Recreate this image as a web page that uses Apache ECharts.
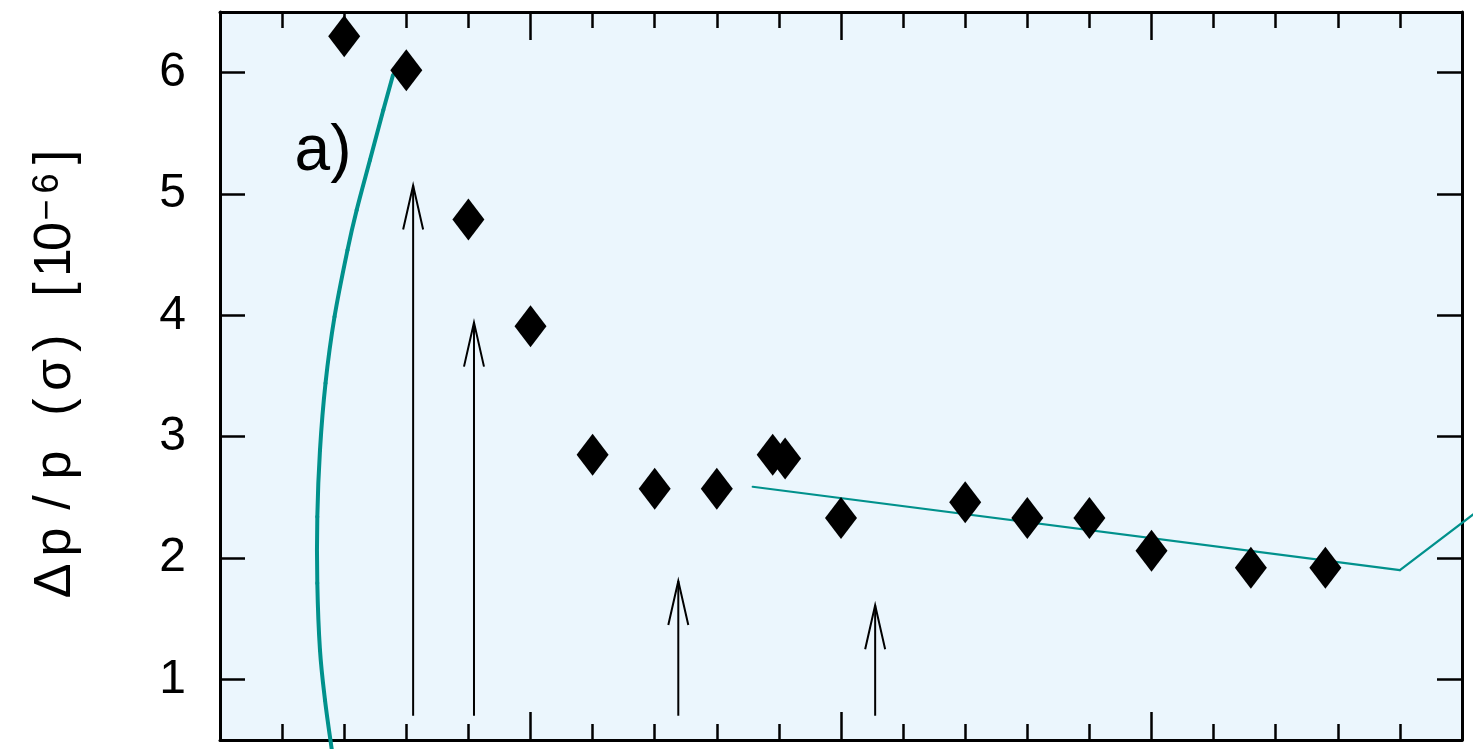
<!DOCTYPE html>
<html>
<head>
<meta charset="utf-8">
<script src="https://cdn.jsdelivr.net/npm/echarts@6/dist/echarts.min.js"></script>
<style>
html,body{margin:0;padding:0;background:#fff;}
#chart{width:1473px;height:749px;}
</style>
</head>
<body>
<div id="chart"></div>
<script>
// Measured data points (diamonds)
const pointX = [2, 3, 4, 5, 6, 7, 8, 8.9, 9.1, 10, 12, 13, 14, 15, 16.6, 17.8];
const pointY = [6.30, 6.02, 4.79, 3.91, 2.85, 2.57, 2.57, 2.85, 2.82, 2.33, 2.46, 2.33, 2.33, 2.06, 1.92, 1.92];

// Thick teal curve (traced)
const curveX = [2.786, 2.630, 2.415, 2.201, 2.053, 1.844, 1.699, 1.610, 1.567, 1.567, 1.610, 1.691, 1.799];
const curveY = [5.981, 5.692, 5.280, 4.868, 4.538, 3.988, 3.441, 2.889, 2.339, 1.793, 1.240, 0.828, 0.424];

// Thin teal fit line
const fitX = [8.578, 19.0, 20.18];
const fitY = [2.587, 1.900, 2.359];

// Upward arrows
const arrowX = [3.11, 4.09, 7.38, 10.55];
const arrowBase = [0.70, 0.70, 0.70, 0.70];
const arrowTip = [5.07, 3.94, 1.81, 1.61];

// Y tick labels
const yTicks = [1, 2, 3, 4, 5, 6];

// Y axis title characters
const titleChars = ['Δ', 'p', '/', 'p', ' ', '(', 'σ', ')', ' ', '[', '1', '0', '−', '6', ']'];

const TEAL = '#00918C';
const FONT = 'Liberation Sans';

const chart = echarts.init(document.getElementById('chart'), null, {renderer: 'canvas'});

// build rich title
const cellW = [38, 40, 39, 36, 24, 32, 32, 32, 23, 29, 25, 27, 26, 27, 26];
const rich = {};
let titleText = '';
titleChars.forEach((c, i) => {
  const sup = (i === 12 || i === 13);
  rich['c' + i] = {
    width: cellW[i],
    align: 'center',
    fontSize: sup ? 36 : 52,
    fontFamily: FONT,
    color: '#000',
    verticalAlign: sup ? 'top' : 'middle'
  };
  titleText += '{c' + i + '|' + c + '}';
});

const xAxisBase = (pos) => ({
  type: 'value',
  position: pos,
  min: 0,
  max: 20,
  interval: 5,
  axisLine: {show: true, onZero: false, lineStyle: {color: '#000', width: 3}},
  axisTick: {show: true, inside: true, length: 28, lineStyle: {color: '#000', width: 2.5}},
  minorTick: {show: true, splitNumber: 5, length: 16, lineStyle: {color: '#000', width: 2.5}},
  axisLabel: {show: false},
  splitLine: {show: false},
  minorSplitLine: {show: false}
});

const yAxisBase = (pos, showLabel) => ({
  type: 'value',
  position: pos,
  min: 0.5,
  max: 6.5,
  axisLine: {show: true, onZero: false, lineStyle: {color: '#000', width: 3}},
  axisTick: {show: true, inside: true, length: 25, customValues: yTicks, lineStyle: {color: '#000', width: 2.5}},
  axisLabel: {show: showLabel, customValues: yTicks, margin: 34, fontSize: 48, fontFamily: FONT, color: '#000'},
  splitLine: {show: false}
});

// Smooth (Catmull-Rom) segment of the traced curve, mapped through the axes
function curveSegment(params, api) {
  const i = params.dataIndex;
  const n = curveX.length;
  if (i >= n - 1) return null;
  const P = (k) => {
    const kk = Math.max(0, Math.min(n - 1, k));
    return api.coord([curveX[kk], curveY[kk]]);
  };
  const p0 = P(i - 1), p1 = P(i), p2 = P(i + 1), p3 = P(i + 2);
  return {
    type: 'bezierCurve',
    shape: {
      x1: p1[0], y1: p1[1],
      cpx1: p1[0] + (p2[0] - p0[0]) / 6, cpy1: p1[1] + (p2[1] - p0[1]) / 6,
      cpx2: p2[0] - (p3[0] - p1[0]) / 6, cpy2: p2[1] - (p3[1] - p1[1]) / 6,
      x2: p2[0], y2: p2[1]
    },
    style: {stroke: TEAL, lineWidth: 4, fill: null, lineCap: 'round'}
  };
}

// Straight fit line segments (unclipped, may run past the frame)
function fitSegment(params, api) {
  const i = params.dataIndex;
  if (i >= fitX.length - 1) return null;
  const a = api.coord([fitX[i], fitY[i]]);
  const b = api.coord([fitX[i + 1], fitY[i + 1]]);
  return {
    type: 'line',
    shape: {x1: a[0], y1: a[1], x2: b[0], y2: b[1]},
    style: {stroke: TEAL, lineWidth: 2.2, lineCap: 'round'}
  };
}

const option = {
  animation: false,
  backgroundColor: '#ffffff',
  grid: {left: 220, right: 11, top: 12, bottom: 9, show: true, backgroundColor: '#EBF6FD', borderWidth: 0},
  xAxis: [xAxisBase('bottom'), xAxisBase('top')],
  yAxis: [yAxisBase('left', true), yAxisBase('right', false)],
  graphic: [
    {
      type: 'text',
      x: 323, y: 152,
      style: {text: 'a)', font: '64px "Liberation Sans"', fill: '#000', align: 'center', verticalAlign: 'middle'}
    },
    {
      type: 'text',
      x: 56, y: 372,
      rotation: Math.PI / 2,
      style: {text: titleText, rich: rich, fontSize: 52, fontFamily: FONT, fill: '#000', align: 'center', verticalAlign: 'middle'}
    }
  ],
  series: [
    {
      type: 'custom',
      xAxisIndex: 0, yAxisIndex: 0,
      data: curveX.map((x, i) => [x, curveY[i]]),
      encode: {x: 0, y: 1},
      renderItem: curveSegment,
      clip: false,
      z: 2
    },
    {
      type: 'custom',
      xAxisIndex: 0, yAxisIndex: 0,
      data: fitX.map((x, i) => [x, fitY[i]]),
      encode: {x: 0, y: 1},
      renderItem: fitSegment,
      clip: false,
      z: 2
    },
    {
      type: 'custom',
      xAxisIndex: 0, yAxisIndex: 0,
      data: arrowX.map((x, i) => [x, arrowBase[i], arrowTip[i]]),
      encode: {x: 0, y: [1, 2]},
      renderItem: function (params, api) {
        const b = api.coord([api.value(0), api.value(1)]);
        const t = api.coord([api.value(0), api.value(2)]);
        return {
          type: 'group',
          children: [
            {type: 'line', shape: {x1: b[0], y1: b[1], x2: t[0], y2: t[1]}, style: {stroke: '#000', lineWidth: 2}},
            {type: 'polyline', shape: {points: [[t[0] - 10, t[1] + 44], [t[0], t[1]], [t[0] + 10, t[1] + 44]]}, style: {stroke: '#000', lineWidth: 2, fill: null}}
          ]
        };
      },
      z: 3
    },
    {
      type: 'scatter',
      xAxisIndex: 0, yAxisIndex: 0,
      data: pointX.map((x, i) => [x, pointY[i]]),
      symbol: 'diamond',
      symbolSize: [32, 42],
      itemStyle: {color: '#000', opacity: 1},
      z: 5
    }
  ]
};

chart.setOption(option);
</script>
</body>
</html>
